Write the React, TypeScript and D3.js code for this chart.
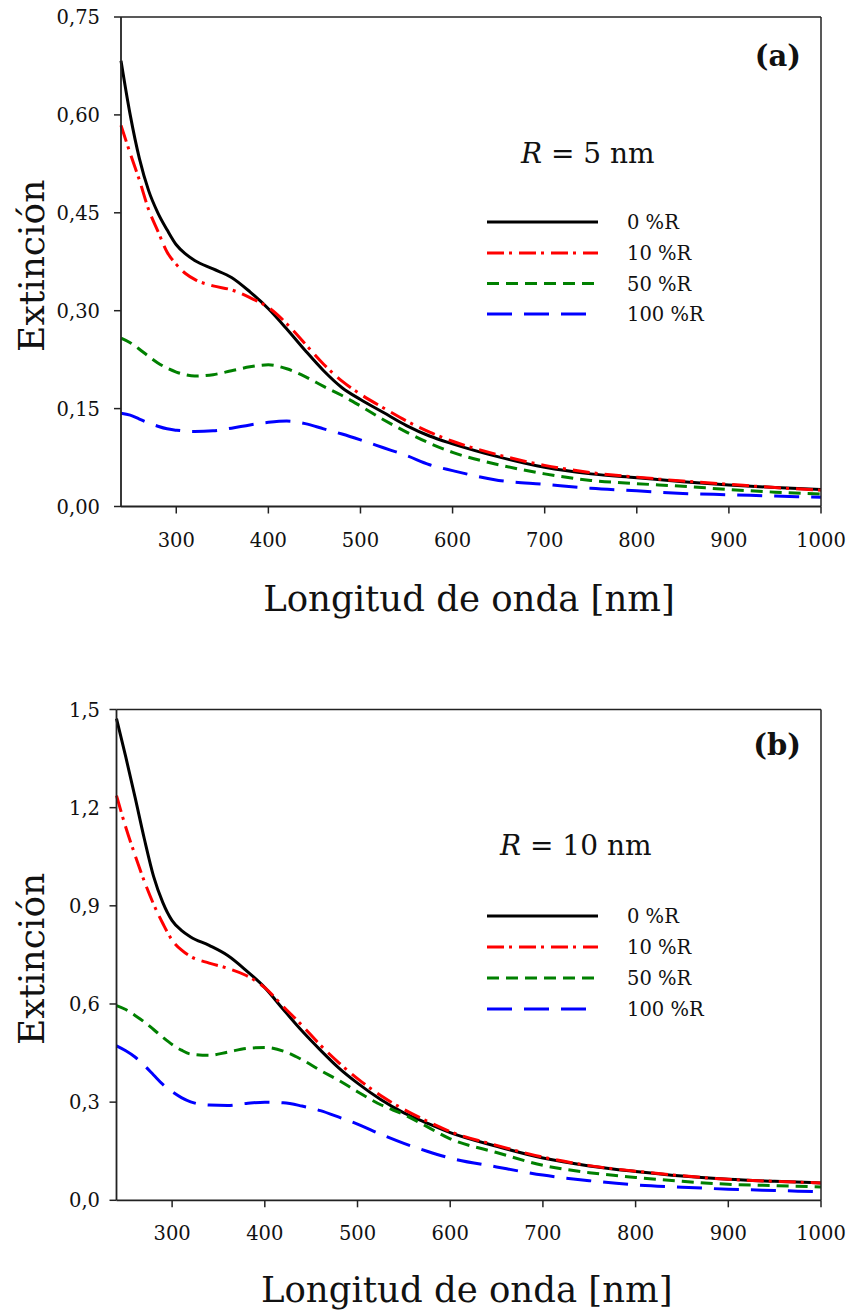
import React from "react";
import * as d3 from "d3";

// ---------- DATA ----------
const WAVELENGTHS = [240, 250, 260, 270, 280, 290, 300, 310, 320, 340, 360, 380, 400, 420, 440, 460, 480, 500, 525, 550, 575, 600, 650, 700, 750, 800, 850, 900, 950, 1000];

// Panel (a): R = 5 nm
const A_R0 = [0.683, 0.600, 0.533, 0.484, 0.450, 0.424, 0.401, 0.387, 0.377, 0.364, 0.351, 0.329, 0.303, 0.272, 0.239, 0.208, 0.182, 0.164, 0.144, 0.124, 0.108, 0.096, 0.076, 0.060, 0.050, 0.044, 0.038, 0.033, 0.029, 0.026];
const A_R10 = [0.584, 0.541, 0.500, 0.455, 0.422, 0.390, 0.371, 0.357, 0.348, 0.338, 0.332, 0.320, 0.305, 0.280, 0.249, 0.218, 0.192, 0.172, 0.151, 0.131, 0.114, 0.100, 0.079, 0.063, 0.052, 0.045, 0.039, 0.034, 0.029, 0.025];
const A_R50 = [0.258, 0.251, 0.241, 0.230, 0.220, 0.212, 0.206, 0.202, 0.200, 0.202, 0.208, 0.214, 0.217, 0.211, 0.199, 0.184, 0.170, 0.154, 0.133, 0.114, 0.097, 0.083, 0.064, 0.050, 0.040, 0.035, 0.031, 0.026, 0.022, 0.019];
const A_R100 = [0.143, 0.140, 0.134, 0.128, 0.123, 0.119, 0.117, 0.1155, 0.115, 0.116, 0.120, 0.125, 0.129, 0.131, 0.127, 0.119, 0.111, 0.102, 0.090, 0.078, 0.064, 0.055, 0.040, 0.034, 0.028, 0.024, 0.020, 0.018, 0.016, 0.014];

// Panel (b): R = 10 nm
const B_R0 = [1.472, 1.355, 1.232, 1.105, 0.990, 0.910, 0.855, 0.825, 0.805, 0.779, 0.748, 0.702, 0.650, 0.583, 0.518, 0.459, 0.404, 0.358, 0.308, 0.267, 0.236, 0.207, 0.165, 0.129, 0.105, 0.088, 0.074, 0.064, 0.058, 0.053];
const B_R10 = [1.237, 1.140, 1.055, 0.975, 0.905, 0.846, 0.795, 0.765, 0.745, 0.725, 0.709, 0.687, 0.650, 0.592, 0.535, 0.474, 0.420, 0.372, 0.320, 0.278, 0.242, 0.210, 0.168, 0.132, 0.106, 0.089, 0.075, 0.064, 0.058, 0.053];
const B_R50 = [0.595, 0.583, 0.565, 0.545, 0.522, 0.498, 0.476, 0.459, 0.447, 0.443, 0.453, 0.464, 0.467, 0.456, 0.430, 0.397, 0.366, 0.332, 0.292, 0.262, 0.225, 0.188, 0.146, 0.107, 0.0845, 0.070, 0.058, 0.049, 0.045, 0.041];
const B_R100 = [0.472, 0.457, 0.438, 0.412, 0.383, 0.354, 0.332, 0.314, 0.301, 0.291, 0.290, 0.296, 0.300, 0.298, 0.288, 0.274, 0.254, 0.233, 0.202, 0.174, 0.150, 0.129, 0.102, 0.077, 0.060, 0.047, 0.040, 0.034, 0.030, 0.026];

const SERIES_LABELS = ["0 %R", "10 %R", "50 %R", "100 %R"];
const SERIES_COLORS = ["#000000", "#ff0000", "#008000", "#0000ff"];
const SERIES_DASH = ["none", "17 5 3 7", "12 7", "25 12"];

const X_TICKS = [300, 400, 500, 600, 700, 800, 900, 1000];
const Y_TICKS_A = [0, 0.15, 0.3, 0.45, 0.6, 0.75];
const Y_TICKS_B = [0, 0.3, 0.6, 0.9, 1.2, 1.5];

const X_DOMAIN = [240, 1000];
const X_TITLE = "Longitud de onda [nm]";
const Y_TITLE = "Extinción";

const FONT = "'DejaVu Serif', serif";

type PanelCfg = {
  left: number; right: number; top: number; bottom: number;
  yMax: number; yTicks: number[]; decimals: number;
  data: number[][]; tag: string; rValue: string;
  rX: number; rY: number; legendY: number[]; titleY: number; tagY: number;
};

const PANELS: PanelCfg[] = [
  {
    left: 121, right: 821, top: 17, bottom: 506.5,
    yMax: 0.75, yTicks: Y_TICKS_A, decimals: 2,
    data: [A_R0, A_R10, A_R50, A_R100], tag: "(a)", rValue: "5",
    rX: 521, rY: 163, legendY: [222, 253, 283.5, 314], titleY: 611, tagY: 66,
  },
  {
    left: 116.5, right: 821, top: 709.5, bottom: 1200.3,
    yMax: 1.5, yTicks: Y_TICKS_B, decimals: 1,
    data: [B_R0, B_R10, B_R50, B_R100], tag: "(b)", rValue: "10",
    rX: 500, rY: 855, legendY: [916, 947, 978, 1009], titleY: 1302, tagY: 755,
  },
];

function Panel({ cfg }: { cfg: PanelCfg }) {
  const x = d3.scaleLinear().domain(X_DOMAIN).range([cfg.left, cfg.right]);
  const y = d3.scaleLinear().domain([0, cfg.yMax]).range([cfg.bottom, cfg.top]);
  const fmt = (v: number) => d3.format(`.${cfg.decimals}f`)(v).replace(".", ",");
  const line = d3
    .line<number>()
    .x((_, i) => x(WAVELENGTHS[i]))
    .y((d) => y(d))
    .curve(d3.curveMonotoneX);
  const midX = (cfg.left + cfg.right) / 2;
  const midY = (cfg.top + cfg.bottom) / 2;
  return (
    <g>
      {cfg.data.map((vals, i) => (
        <path
          key={i}
          d={line(vals) || ""}
          fill="none"
          stroke={SERIES_COLORS[i]}
          strokeWidth={3}
          strokeDasharray={SERIES_DASH[i]}
        />
      ))}
      <line x1={cfg.left} x2={cfg.right} y1={cfg.top} y2={cfg.top} stroke="#222" strokeWidth={1.5} />
      <line x1={cfg.right} x2={cfg.right} y1={cfg.top} y2={cfg.bottom} stroke="#222" strokeWidth={1.5} />
      <line x1={cfg.left} x2={cfg.left} y1={cfg.top} y2={cfg.bottom} stroke="#222" strokeWidth={1.8} />
      <line x1={cfg.left} x2={cfg.right} y1={cfg.bottom} y2={cfg.bottom} stroke="#222" strokeWidth={1.8} />
      {cfg.yTicks.map((t) => (
        <g key={t}>
          <line x1={cfg.left - 7} x2={cfg.left} y1={y(t)} y2={y(t)} stroke="#222" strokeWidth={1.5} />
          <text x={100} y={y(t) + 7} textAnchor="end" fontFamily={FONT} fontSize={19.5} fill="#111">
            {fmt(t)}
          </text>
        </g>
      ))}
      {X_TICKS.map((t) => (
        <g key={t}>
          <line x1={x(t)} x2={x(t)} y1={cfg.bottom} y2={cfg.bottom + 7} stroke="#222" strokeWidth={1.5} />
          <text x={x(t)} y={cfg.bottom + 40} textAnchor="middle" fontFamily={FONT} fontSize={19.5} fill="#111">
            {t}
          </text>
        </g>
      ))}
      <text x={midX - 2} y={cfg.titleY} textAnchor="middle" fontFamily={FONT} fontSize={35.5} fill="#111">
        {X_TITLE}
      </text>
      <text
        transform={`translate(44,${midY + 4}) rotate(-90)`}
        textAnchor="middle"
        fontFamily={FONT}
        fontSize={36}
        fill="#111"
      >
        {Y_TITLE}
      </text>
      <text x={801} y={cfg.tagY} textAnchor="end" fontFamily={FONT} fontWeight="bold" fontSize={29} fill="#111">
        {cfg.tag}
      </text>
      <text x={cfg.rX} y={cfg.rY} fontFamily={FONT} fontSize={28} fill="#111">
        <tspan fontStyle="italic">R</tspan>
        {` = ${cfg.rValue} nm`}
      </text>
      {SERIES_LABELS.map((lab, i) => (
        <g key={lab}>
          <line
            x1={487}
            x2={598}
            y1={cfg.legendY[i]}
            y2={cfg.legendY[i]}
            stroke={SERIES_COLORS[i]}
            strokeWidth={3}
            strokeDasharray={SERIES_DASH[i]}
          />
          <text x={627} y={cfg.legendY[i] + 7} fontFamily={FONT} fontSize={19.5} fill="#111">
            {lab}
          </text>
        </g>
      ))}
    </g>
  );
}

export default function App() {
  return (
    <svg
      width={850}
      height={1313}
      viewBox="0 0 850 1313"
      style={{ position: "absolute", left: 0, top: 0, background: "#fff" }}
    >
      <rect x={0} y={0} width={850} height={1313} fill="#fff" />
      {PANELS.map((p, i) => (
        <Panel key={i} cfg={p} />
      ))}
    </svg>
  );
}
